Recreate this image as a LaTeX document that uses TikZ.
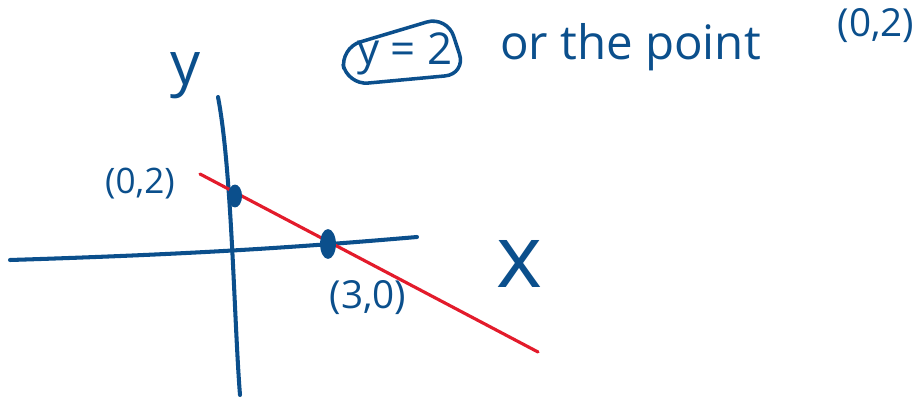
\documentclass[tikz,border=0pt]{standalone}
\usepackage{fontspec}
\setmainfont{Open Sans}
\usepackage{xcolor}
\usetikzlibrary{shapes.geometric, positioning}
\definecolor{inkblue}{HTML}{0B4F8C}
\definecolor{inkred}{HTML}{E31B2B}
\tikzset{
  axisline/.style={draw=inkblue, line width=2.3pt, line cap=round},
  redline/.style={draw=inkred, line width=1.8pt, line cap=round},
  ptdot/.style={ellipse, fill=inkblue, inner sep=0pt},
  inktext/.style={text=inkblue, inner sep=1pt},
}

\begin{document}
\begin{tikzpicture}[
  x=0.02cm, y=-0.02cm,
  boxline/.style={draw=inkblue, line width=2pt, rounded corners=12pt, line join=round},
]
  \useasboundingbox (0,0) rectangle (916,402);

  % Axes
  \coordinate (xl) at (10,260);
  \coordinate (xr) at (417,237);
  \coordinate (yt) at (218,97);
  \coordinate (yb) at (240,395);
  \draw[axisline] (xl) .. controls (200,254) and (300,247) .. (xr);
  \draw[axisline] (yt) .. controls (232,170) and (234,320) .. (yb);

  % Line through the two intercepts
  \coordinate (rs) at (200,174);
  \coordinate (re) at (538,352);
  \draw[redline] (rs) -- (re);

  % Intercept points
  \node[ptdot, minimum width=8pt, minimum height=13pt] (yint) at (235,196) {};
  \node[ptdot, minimum width=9pt, minimum height=17pt] (xint) at (328,244) {};

  % Labels
  \node[inktext, font=\fontsize{34}{36}\selectfont] (ylab) at (186,76) {y};
  \node[inktext, font=\fontsize{50}{52}\selectfont] (xlab) at (520,264) {x};
  \node[inktext, font=\fontsize{20}{22}\selectfont] (ptA) at (140,184) {(0,2)};
  \node[inktext, font=\fontsize{22}{24}\selectfont] (ptB) at (368,298) {(3,0)};

  % Top note
  \node[inktext, font=\fontsize{25}{27}\selectfont] (yeq) at (405,54) {y = 2};
  \draw[boxline] (340,48) -- (447,16) -- (466,74) -- (347,85) -- cycle;
  \node[inktext, font=\fontsize{27}{29}\selectfont, anchor=base west] (note) at (498,60) {or the point};
  \node[inktext, font=\fontsize{22}{24}\selectfont] (ptC) at (876,26) {(0,2)};
\end{tikzpicture}
\end{document}
